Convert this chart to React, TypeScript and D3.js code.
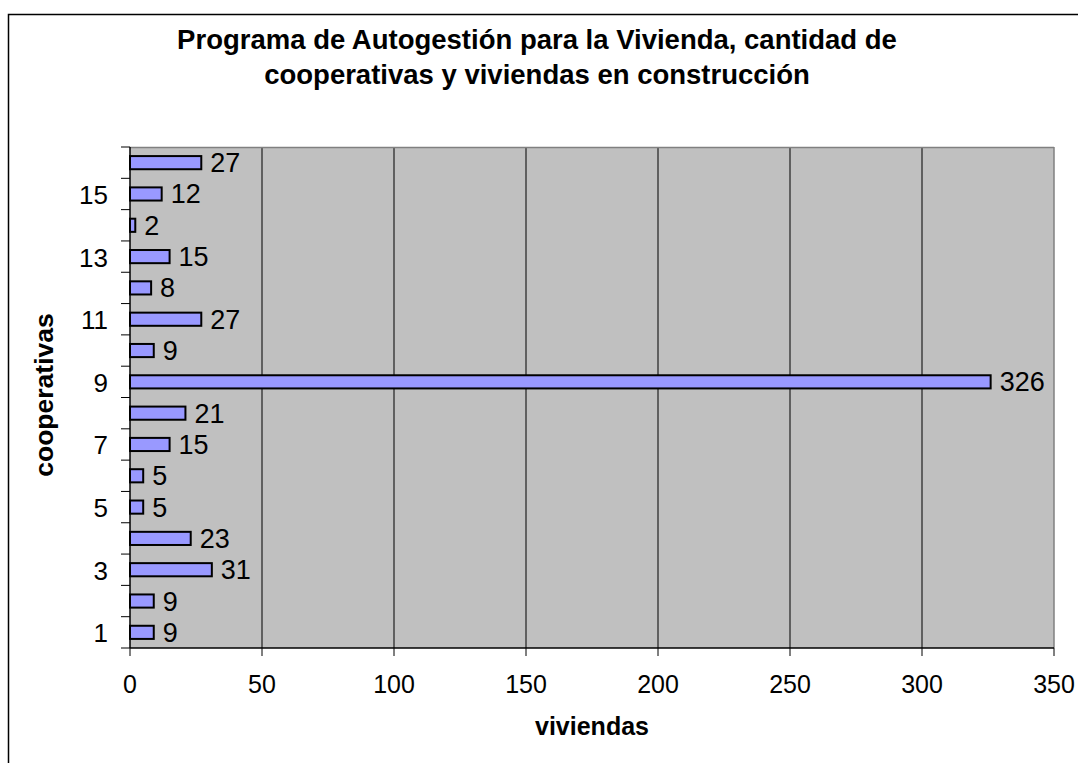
import React from "react";
import * as d3 from "d3";

const categories = ["1","2","3","4","5","6","7","8","9","10","11","12","13","14","15","16"];
const values = [9, 9, 31, 23, 5, 5, 15, 21, 326, 9, 27, 8, 15, 2, 12, 27];
const xTicks = [0, 50, 100, 150, 200, 250, 300, 350];
const titleLines = [
  "Programa de Autogestión para la Vivienda, cantidad de",
  "cooperativas y viviendas en construcción",
];
const xTitle = "viviendas";
const yTitle = "cooperativas";

const W = 1078, H = 763;
const L = 130, R = 1054, T = 147, B = 648;
const FONT = "'Liberation Sans', Arial, sans-serif";

export default function App() {
  const x = d3.scaleLinear().domain([0, 350]).range([L, R]);
  const y = d3.scaleBand().domain([...categories].reverse()).range([T, B]).paddingInner(0.58).paddingOuter(0.29);
  const yb = d3.scaleBand().domain([...categories].reverse()).range([T, B]);
  return (
    <svg width={W} height={H} style={{ position: "absolute", left: 0, top: 0, display: "block", background: "#fff" }}>
      <rect x={8.5} y={14.5} width={1200} height={900} fill="#fff" stroke="#000" strokeWidth={1.5} />
      {titleLines.map((t, i) => (
        <text key={i} x={537} y={49 + i * 35} textAnchor="middle" fontFamily={FONT} fontWeight="bold" fontSize={27.5} fill="#000">{t}</text>
      ))}
      <rect x={L} y={T} width={R - L} height={B - T} fill="#c0c0c0" />
      {xTicks.slice(1, -1).map((v) => (
        <line key={v} x1={x(v)} x2={x(v)} y1={T} y2={B} stroke="#000" strokeWidth={1} />
      ))}
      <line x1={L} x2={R} y1={T + 0.5} y2={T + 0.5} stroke="#808080" strokeWidth={1.5} />
      <line x1={R} x2={R} y1={T} y2={B} stroke="#808080" strokeWidth={1.5} />
      {categories.map((c, i) => (
        <g key={c}>
          <rect x={x(0)} y={y(c)!} width={x(values[i]) - x(0)} height={y.bandwidth()} fill="#9999ff" stroke="#000" strokeWidth={2} />
          <text x={x(values[i]) + 9} y={yb(c)! + yb.bandwidth() / 2 + 9.5} fontFamily={FONT} fontSize={27} fill="#000">{values[i]}</text>
        </g>
      ))}
      <line x1={L} x2={L} y1={T} y2={B} stroke="#000" strokeWidth={1.5} />
      <line x1={L} x2={R} y1={B} y2={B} stroke="#000" strokeWidth={1.5} />
      {categories.map((c) => (
        <line key={"t" + c} x1={L - 9} x2={L} y1={yb(c)!} y2={yb(c)!} stroke="#000" strokeWidth={1} />
      ))}
      <line x1={L - 9} x2={L} y1={B} y2={B} stroke="#000" strokeWidth={1} />
      {categories.map((c, i) => i % 2 === 0 ? (
        <text key={"l" + c} x={L - 22} y={yb(c)! + yb.bandwidth() / 2 + 10} textAnchor="end" fontFamily={FONT} fontSize={26} fill="#000">{c}</text>
      ) : null)}
      {xTicks.map((v) => (
        <g key={"x" + v}>
          <line x1={x(v)} x2={x(v)} y1={B} y2={B + 8} stroke="#000" strokeWidth={1} />
          <text x={x(v)} y={693} textAnchor="middle" fontFamily={FONT} fontSize={25} fill="#000">{v}</text>
        </g>
      ))}
      <text x={(L + R) / 2} y={735} textAnchor="middle" fontFamily={FONT} fontWeight="bold" fontSize={25} fill="#000">{xTitle}</text>
      <text transform={`translate(53, 395) rotate(-90)`} textAnchor="middle" fontFamily={FONT} fontWeight="bold" fontSize={26.5} fill="#000">{yTitle}</text>
    </svg>
  );
}
